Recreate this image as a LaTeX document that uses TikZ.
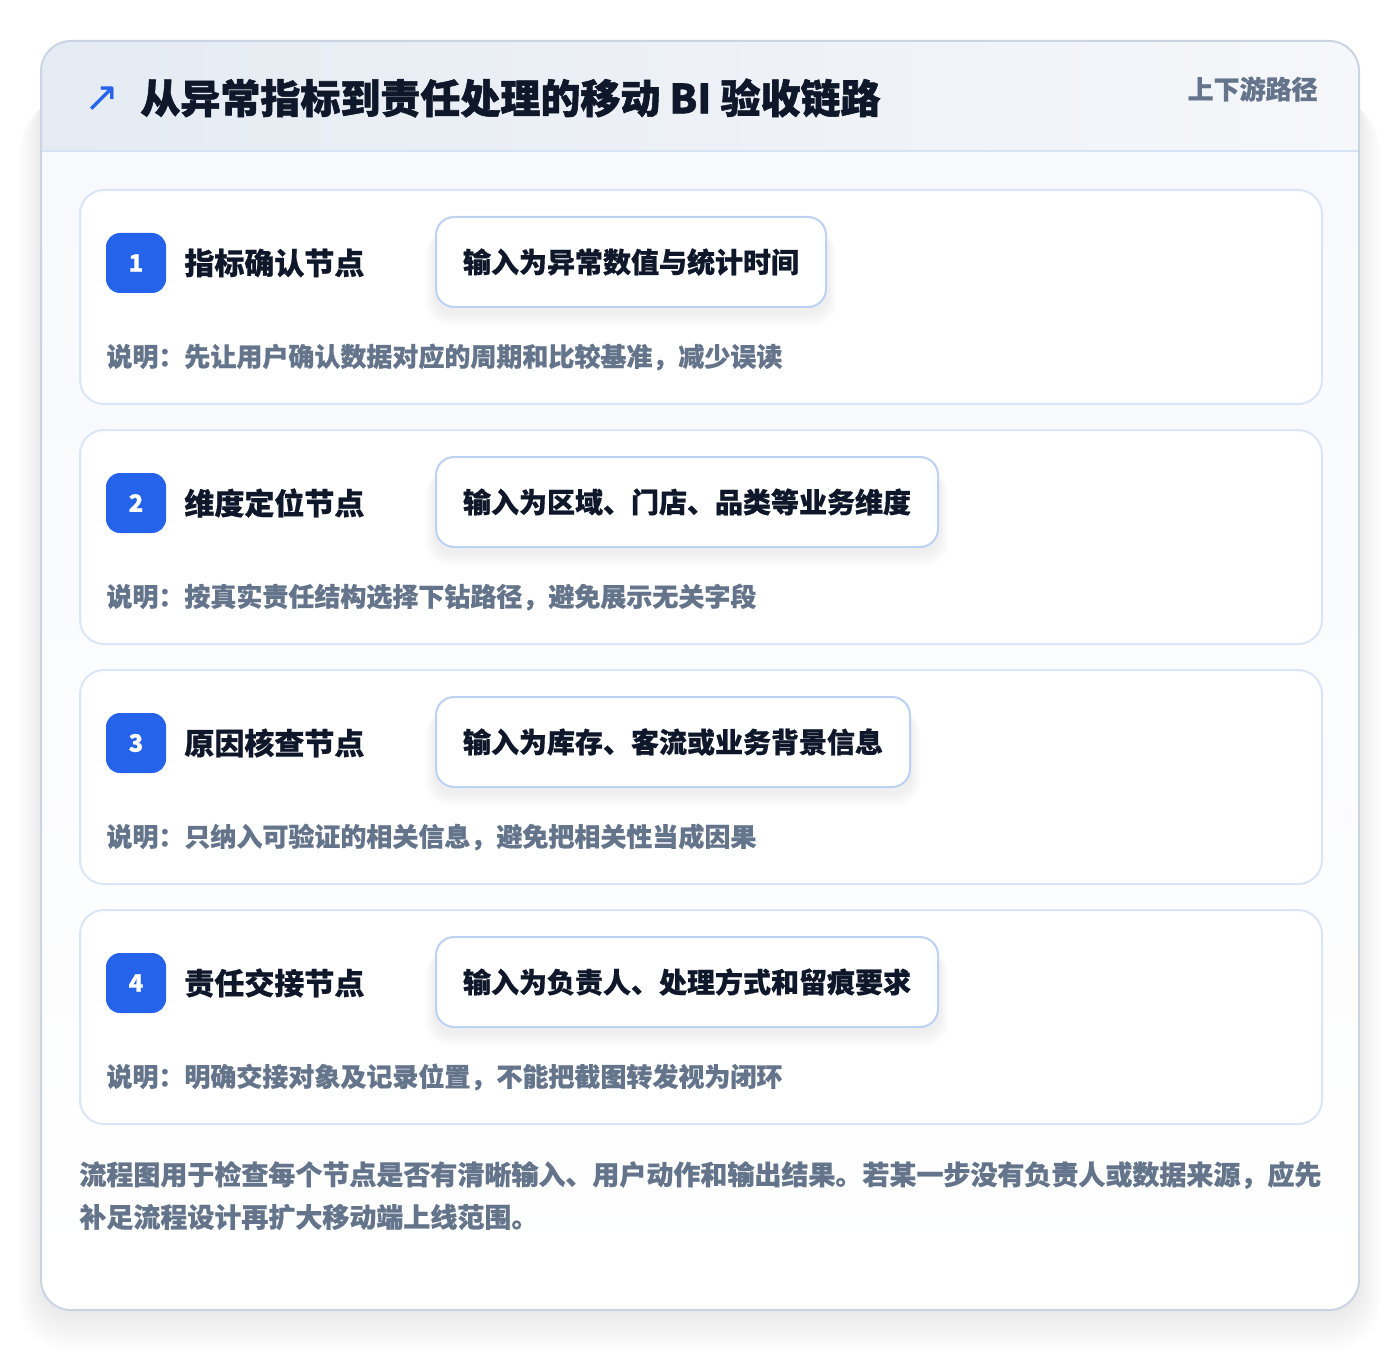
\documentclass[tikz,border=0pt]{standalone}
\usepackage{fontspec}
\setmainfont{Noto Sans CJK SC}[BoldFeatures={FakeBold=0.6}]
\newfontfamily\heavy{Noto Sans CJK SC}[BoldFeatures={FakeBold=1.4}]
\newfontfamily\dejavu{DejaVu Sans}
\usetikzlibrary{calc}
\pgfdeclarelayer{bg}
\pgfdeclarelayer{shad}
\pgfsetlayers{bg,shad,main}
\definecolor{ink}{HTML}{0F172A}
\definecolor{muted}{HTML}{64748B}
\definecolor{badgeblue}{HTML}{2563EB}
\definecolor{cardborder}{HTML}{DAE6F7}
\definecolor{inputborder}{HTML}{BBD2F2}
\definecolor{outerborder}{HTML}{CBD5E1}
\definecolor{hdrline}{HTML}{D6E3F5}
\definecolor{hdrL}{HTML}{E5EBF3}
\definecolor{hdrR}{HTML}{F5F7FA}
\definecolor{bodytop}{HTML}{F7F9FC}
\definecolor{shadowc}{HTML}{1E293B}
\tikzset{
  card/.style={draw=cardborder, line width=1pt, fill=white, rounded corners=12pt, inner sep=0pt},
  badge/.style={fill=badgeblue, rounded corners=7pt, minimum width=30pt, minimum height=30pt, inner sep=0pt, text=white, font=\fontsize{12}{14}\selectfont\bfseries},
  cardtitle/.style={anchor=west, inner sep=0pt, text=ink, font=\fontsize{15}{18}\selectfont\bfseries},
  inputbox/.style={anchor=west, draw=inputborder, line width=1pt, fill=white, rounded corners=9pt, minimum height=45pt, inner xsep=13.5pt, inner ysep=0pt, text=ink, font=\fontsize{14}{17}\selectfont\bfseries},
  desc/.style={anchor=west, inner sep=0pt, text=muted, font=\fontsize{13}{16}\selectfont\bfseries},
  foot/.style={anchor=west, inner sep=0pt, text=muted, font=\fontsize{13.5}{16}\selectfont\bfseries},
  softshadow/.style={fill=shadowc, opacity=#1},
}
\begin{document}
\begin{tikzpicture}[x=0.5pt,y=-0.5pt]
\useasboundingbox (0,0) rectangle (1400,1352);
\begin{pgfonlayer}{bg}
\fill[white] (0,0) rectangle (1400,1352);
% outer card shadow
\foreach \i in {1,...,20}{
  \fill[softshadow=0.0035, rounded corners=15pt+\i*0.5pt] (41-\i*1.1,90+\i*0.5) rectangle (1359+\i*1.1,1312+\i*2);
}
% outer card
\node[anchor=north west, minimum width=659pt, minimum height=634.5pt, inner sep=0pt, rounded corners=15pt, fill=white] (outer) at (41,41) {};
\begin{scope}
\clip[rounded corners=15pt] (41,41) rectangle (1359,1310);
\shade[left color=hdrL, right color=hdrR] (41,41) rectangle (1359,151);
\shade[top color=bodytop, bottom color=white] (41,151) rectangle (1359,1310);
\end{scope}
\draw[hdrline, line width=1pt] (41,151) -- (1359,151);
\draw[outerborder, line width=1pt, rounded corners=15pt] (41,41) rectangle (1359,1310);
\end{pgfonlayer}
% header
\node[inner sep=0pt, text=badgeblue, font=\dejavu\fontsize{21}{24}\selectfont] (icon) at (102,99) {↗};
\node[anchor=west, inner sep=0pt, text=ink, font=\heavy\fontsize{20}{24}\selectfont\bfseries] (title) at (140,98) {从异常指标到责任处理的移动 BI 验收链路};
\node[anchor=east, inner sep=0pt, text=muted, font=\fontsize{13}{16}\selectfont\bfseries] (path) at (1318,89) {上下游路径};
% cards
\foreach \k/\num/\ttl/\inp/\dsc in {
  0/1/指标确认节点/输入为异常数值与统计时间/说明：先让用户确认数据对应的周期和比较基准，减少误读,
  1/2/维度定位节点/输入为区域、门店、品类等业务维度/说明：按真实责任结构选择下钻路径，避免展示无关字段,
  2/3/原因核查节点/输入为库存、客流或业务背景信息/说明：只纳入可验证的相关信息，避免把相关性当成因果,
  3/4/责任交接节点/输入为负责人、处理方式和留痕要求/说明：明确交接对象及记录位置，不能把截图转发视为闭环}{
  \pgfmathsetmacro\ctop{189+240*\k}
  \begin{pgfonlayer}{bg}
    \node[card, anchor=north west, minimum width=621pt, minimum height=107pt] (card\num) at (79,\ctop) {};
  \end{pgfonlayer}
  \node[badge] (badge\num) at (136,\ctop+74) {\num};
  \node[cardtitle] (title\num) at (184,\ctop+74) {\ttl};
  \node[inputbox] (input\num) at (435,\ctop+73) {\inp};
  \begin{pgfonlayer}{shad}
    \foreach \j in {1,...,8}{
      \fill[softshadow=0.008, rounded corners=9pt+\j*0.4pt]
        ($(input\num.north west)+(-\j*1.2,14)$) rectangle ($(input\num.south east)+(\j*1.2,4+\j*1.8)$);
    }
  \end{pgfonlayer}
  \node[desc] (desc\num) at (106,\ctop+168) {\dsc};
}
% footer
\node[foot] (foot1) at (79,1175) {流程图用于检查每个节点是否有清晰输入、用户动作和输出结果。若某一步没有负责人或数据来源，应先};
\node[foot] (foot2) at (79,1217) {补足流程设计再扩大移动端上线范围。};
\end{tikzpicture}
\end{document}
